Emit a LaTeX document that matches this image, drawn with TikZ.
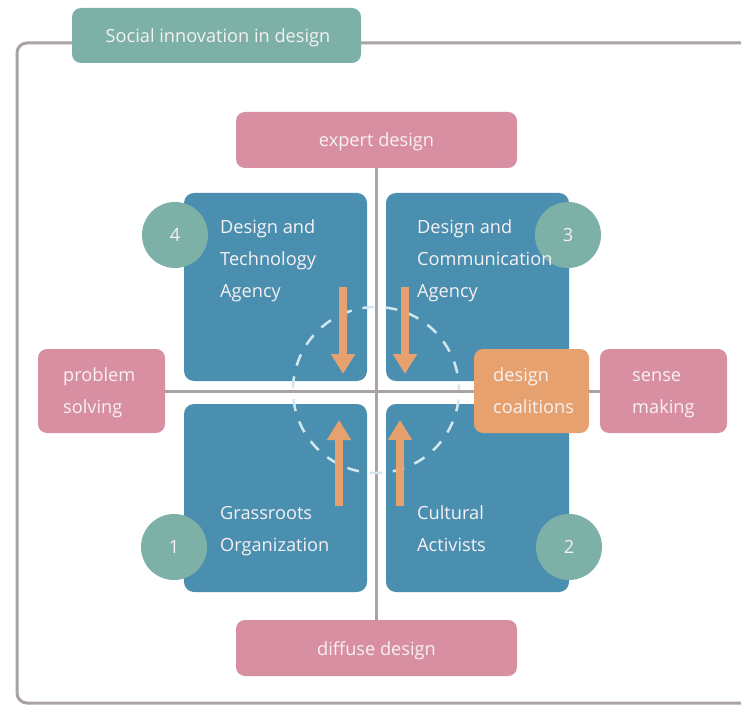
\documentclass[tikz,border=0pt]{standalone}
\usepackage{fontspec}
\setmainfont{Open Sans}
\usetikzlibrary{arrows.meta}
\definecolor{linegray}{HTML}{A9A3A6}
\definecolor{boxblue}{HTML}{4B8FB0}
\definecolor{tealc}{HTML}{7DB0A7}
\definecolor{pinkc}{HTML}{D98FA2}
\definecolor{orangec}{HTML}{E7A16E}
\definecolor{dashc}{HTML}{D3E7F0}
\definecolor{softwhite}{HTML}{F6F1F2}
\begin{document}
\begin{tikzpicture}[x=1pt,y=-1pt,
  txt/.style={font=\fontsize{18.2}{32}\selectfont, text=softwhite},
  pinkbox/.style={fill=pinkc, rounded corners=9pt, inner sep=0pt},
  bluebox/.style={fill=boxblue, rounded corners=10pt, inner sep=0pt, minimum width=183pt, minimum height=188pt},
  numcircle/.style={circle, fill=tealc, minimum size=66pt, inner sep=0pt, txt},
  axis/.style={draw=linegray, line width=3pt},
  flow/.style={draw=orangec, line width=8pt, -{Triangle[width=23pt,length=20pt]}},
  label/.style={txt, align=left, anchor=base west, inner sep=0pt}
]
\useasboundingbox (0,0) rectangle (741,708);
\fill[white] (0,0) rectangle (741,708);

% outer frame
\draw[linegray, line width=3pt, rounded corners=10pt] (760,43) -- (17,43) -- (17,703) -- (760,703);

% title tab
\node[fill=tealc, rounded corners=9pt, minimum width=289pt, minimum height=55pt] (title) at (216.5,35.5) {};
\node[txt, anchor=base, inner sep=0pt] (titletext) at (218,43) {Social innovation in design};

% pole boxes
\node[pinkbox, minimum width=281pt, minimum height=56pt] (expert) at (376.5,140) {};
\node[pinkbox, minimum width=281pt, minimum height=56pt] (diffuse) at (376.5,648) {};
\node[txt, anchor=base, inner sep=0pt] (experttext) at (376.5,147) {expert design};
\node[txt, anchor=base, inner sep=0pt] (diffusetext) at (376.5,655) {diffuse design};
\node[pinkbox, minimum width=127pt, minimum height=84pt] (problem) at (101.5,391) {};
\node[pinkbox, minimum width=127pt, minimum height=84pt] (sense) at (663.5,391) {};

% axes
\draw[axis] (expert.south) -- (diffuse.north);
\draw[axis] (problem.east) -- (sense.west);

% quadrants
\node[bluebox] (q4) at (275.5,287) {};
\node[bluebox] (q3) at (477.5,287) {};
\node[bluebox] (q1) at (275.5,498) {};
\node[bluebox] (q2) at (477.5,498) {};

% dashed ring around the centre
\coordinate (centre) at (376,390);
\draw[dashc, line width=2.5pt, dash pattern=on 12pt off 11pt, dash phase=6pt] (centre) circle (83pt);

% coalitions box
\node[fill=orangec, rounded corners=9pt, minimum width=115pt, minimum height=84pt, inner sep=0pt] (coal) at (531.5,391) {};

% arrows
\coordinate (a1s) at (343,287); \coordinate (a1e) at (343,374);
\coordinate (a2s) at (405,287); \coordinate (a2e) at (405,374);
\coordinate (a3s) at (339,506); \coordinate (a3e) at (339,420);
\coordinate (a4s) at (400,506); \coordinate (a4e) at (400,420);
\draw[flow] (a1s) -- (a1e);
\draw[flow] (a2s) -- (a2e);
\draw[flow] (a3s) -- (a3e);
\draw[flow] (a4s) -- (a4e);

% number circles
\node[numcircle] (n4) at (175,235) {4};
\node[numcircle] (n3) at (568,235) {3};
\node[numcircle] (n1) at (174,547) {1};
\node[numcircle] (n2) at (569,547) {2};

% labels (anchored on the baseline of their last line)
\node[label] (t4) at (220,298) {Design and\\Technology\\Agency};
\node[label] (t3) at (417,298) {Design and\\Communication\\Agency};
\node[label] (t1) at (220,551) {Grassroots\\Organization};
\node[label] (t2) at (417,551) {Cultural\\Activists};
\node[label] (tp) at (63,413.5) {problem\\solving};
\node[label] (ts) at (632,413.5) {sense\\making};
\node[label] (tc) at (493,413.5) {design\\coalitions};
\end{tikzpicture}
\end{document}
